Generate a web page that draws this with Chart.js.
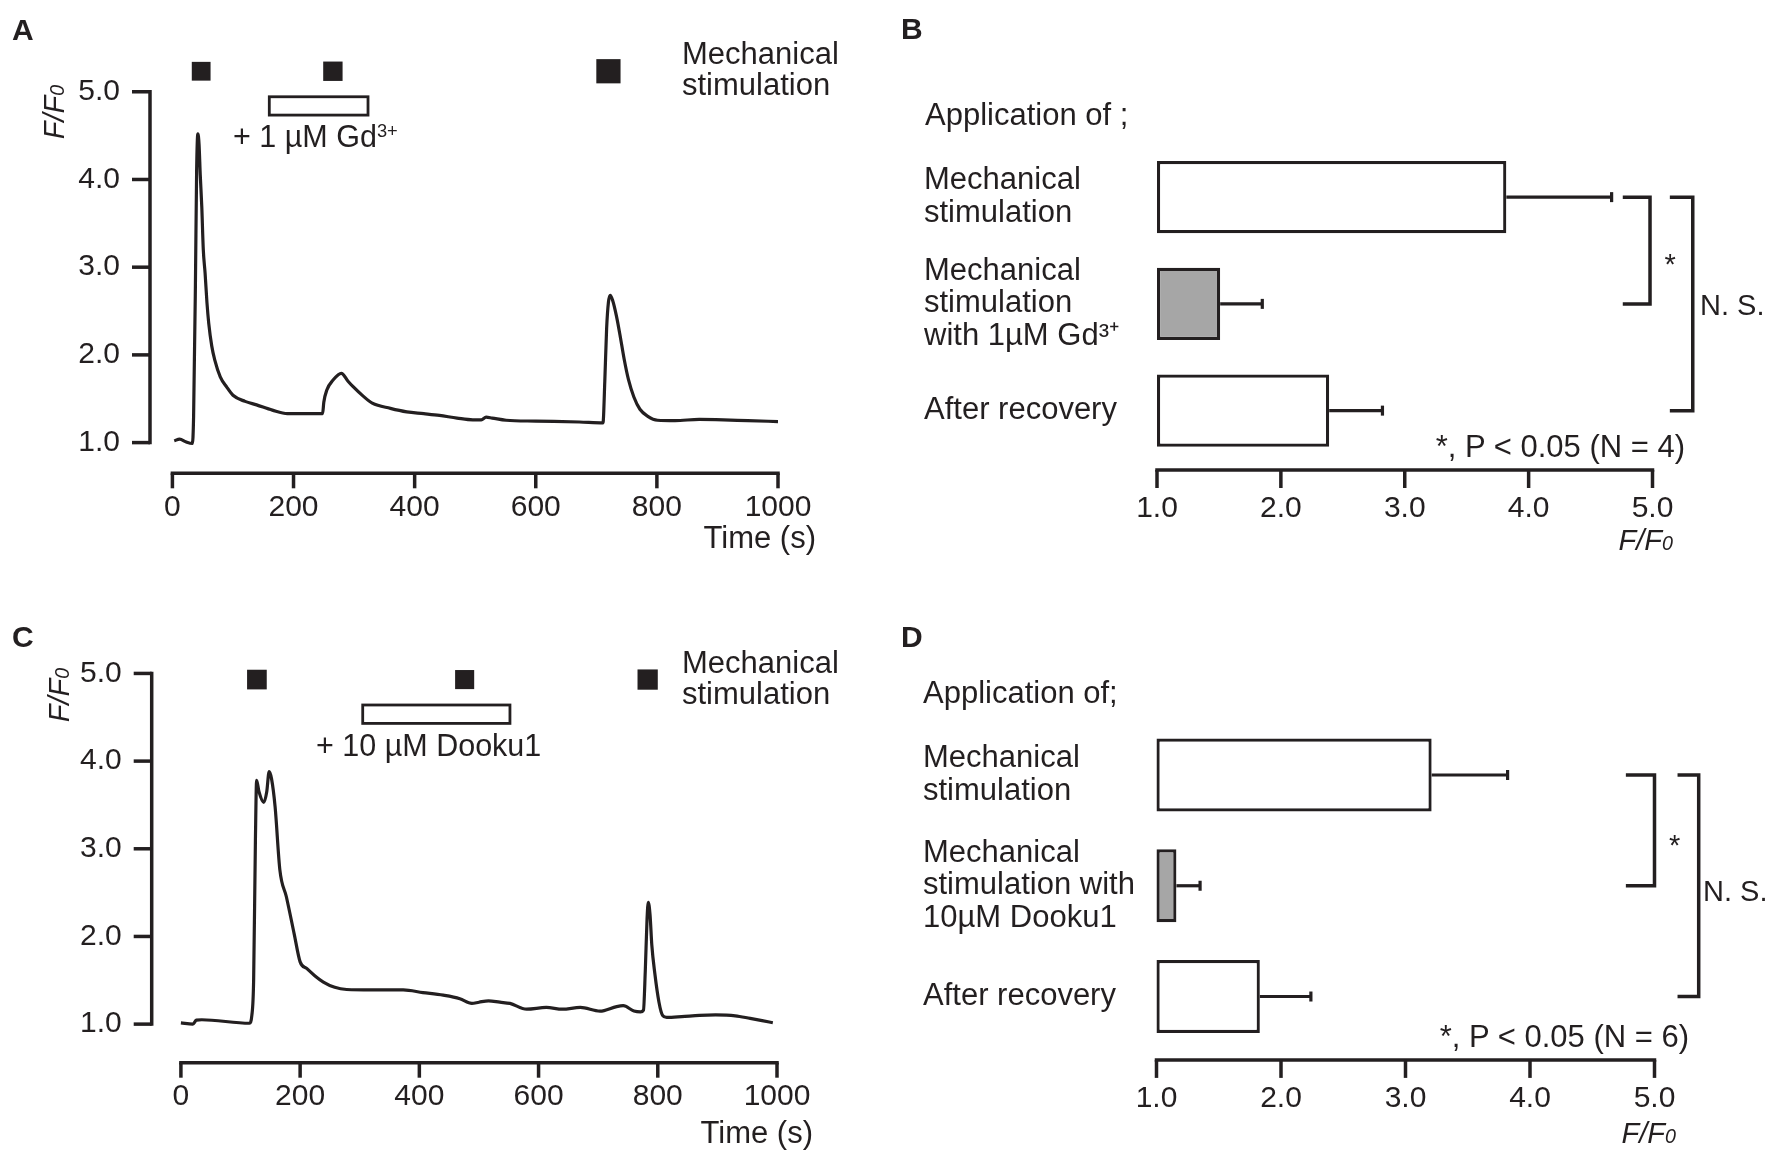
<!DOCTYPE html>
<html>
<head>
<meta charset="utf-8">
<script src="https://cdn.jsdelivr.net/npm/chart.js@4.4.1/dist/chart.umd.min.js"></script>
<style>
  html, body { margin: 0; padding: 0; background: #fff; }
  body { width: 1775px; height: 1154px; position: relative; overflow: hidden;
         font-family: 'Liberation Sans', Arial, Helvetica, sans-serif; color: #231f20; }
  canvas { position: absolute; }
  .t { position: absolute; white-space: nowrap; font-size: 31px; line-height: 31px; }
  .s30 { font-size: 30.5px; }
  .s29 { font-size: 29px; }
  .tag { font-size: 30px; font-weight: bold; }
  .right { transform: translateX(-100%); }
  .ylab { font-size: 29px; font-style: italic; transform: translate(-50%, -50%) rotate(-90deg); }
  .sub { font-size: 0.68em; }
  sup { font-size: 0.6em; vertical-align: 0.55em; line-height: 0; }
</style>
</head>
<body>

<canvas id="chartA" width="887" height="577" style="left:0;top:0"></canvas>
<canvas id="chartB" width="888" height="577" style="left:887px;top:0"></canvas>
<canvas id="chartC" width="887" height="577" style="left:0;top:577px"></canvas>
<canvas id="chartD" width="888" height="577" style="left:887px;top:577px"></canvas>

<!-- panel A -->
<div class="t tag" style="left:12px;top:14.3px">A</div>
<div class="t" style="left:682px;top:37.8px">Mechanical<br>stimulation</div>
<div class="t s30" style="left:233px;top:120.9px">+ 1 µM Gd<sup>3+</sup></div>
<div class="t right" style="left:816px;top:521.8px">Time (s)</div>
<div class="t ylab" style="left:56px;top:111.5px">F/F<span class="sub">0</span></div>

<!-- panel B -->
<div class="t tag" style="left:901px;top:13.3px">B</div>
<div class="t" style="left:925px;top:98.8px">Application of ;</div>
<div class="t s29" style="left:1664.4px;top:249px">*</div>
<div class="t s29" style="left:1700px;top:289.5px">N. S.</div>
<div class="t right" style="left:1685px;top:430.5px">*, P &lt; 0.05 (N = 4)</div>
<div class="t s29 right" style="left:1673px;top:524.5px;font-style:italic">F/F<span class="sub">0</span></div>

<!-- panel C -->
<div class="t tag" style="left:12px;top:621.3px">C</div>
<div class="t" style="left:682px;top:647.1px">Mechanical<br>stimulation</div>
<div class="t s30" style="left:316px;top:729.6px">+ 10 µM Dooku1</div>
<div class="t right" style="left:813px;top:1116.8px">Time (s)</div>
<div class="t ylab" style="left:60.5px;top:695px">F/F<span class="sub">0</span></div>

<!-- panel D -->
<div class="t tag" style="left:901px;top:621.3px">D</div>
<div class="t" style="left:923px;top:676.8px">Application of;</div>
<div class="t s29" style="left:1669px;top:829.5px">*</div>
<div class="t s29" style="left:1703px;top:876.3px">N. S.</div>
<div class="t right" style="left:1689px;top:1021.2px">*, P &lt; 0.05 (N = 6)</div>
<div class="t s29 right" style="left:1676px;top:1117.5px;font-style:italic">F/F<span class="sub">0</span></div>

<script>
const ink = '#231f20';
const grey = '#a6a6a6';

// axis ticks
const timeTicks = [0, 200, 400, 600, 800, 1000];
const ratioTicks = [1, 2, 3, 4, 5];

// A: trace with Gd3+
const timeA = [3, 12, 22, 33, 35, 38, 40, 42, 44, 46, 48.5, 51, 54, 57, 60, 65, 70, 79, 90, 100,
  120, 139, 165, 190, 248, 250, 255, 265, 279, 290, 298, 315, 330, 360, 387, 415, 441, 470, 496, 510,
  518, 528, 551, 600, 672, 711, 714, 717, 720, 723, 727, 733, 739, 746, 753, 762, 772, 785, 801, 830,
  870, 910, 950, 1000];
const ratioA = [1.02, 1.04, 1.01, 0.99, 1.3, 2.8, 4.1, 4.52, 4.4, 4.05, 3.69, 3.2, 2.93, 2.6, 2.36, 2.1, 1.94, 1.75, 1.63, 1.54,
  1.47, 1.43, 1.37, 1.33, 1.33, 1.46, 1.6, 1.71, 1.79, 1.7, 1.64, 1.53, 1.45, 1.39, 1.35, 1.33, 1.31, 1.28, 1.26, 1.26,
  1.29, 1.28, 1.255, 1.245, 1.235, 1.225, 1.7, 2.3, 2.6, 2.68, 2.62, 2.45, 2.23, 1.95, 1.72, 1.52, 1.38, 1.3, 1.255, 1.25,
  1.265, 1.26, 1.25, 1.24];
const stimA = [[32, 63], [249, 281], [700, 740]];
const drugA = [160, 323];

// C: trace with Dooku1
const timeC = [0, 20, 26, 35, 115, 119, 122, 125, 127, 131, 139, 144, 148, 152, 158, 166, 177, 190, 200, 211,
  225, 239, 258, 278, 320, 373, 406, 440, 468, 488, 500, 516, 535, 552, 580, 613, 640, 670, 703, 731,
  742, 760, 771, 776, 779, 782, 784, 787, 790, 795, 802, 808, 815, 840, 870, 897, 930, 955, 975, 993];
const ratioC = [1.015, 1.0, 1.045, 1.05, 1.01, 1.1, 1.5, 3.1, 3.78, 3.65, 3.53, 3.65, 3.88, 3.8, 3.48, 2.76, 2.45, 2.03, 1.71, 1.635,
  1.55, 1.48, 1.42, 1.395, 1.39, 1.39, 1.36, 1.33, 1.29, 1.236, 1.25, 1.266, 1.25, 1.236, 1.171, 1.19, 1.17, 1.19, 1.148, 1.2,
  1.21, 1.15, 1.14, 1.16, 1.6, 2.2, 2.39, 2.25, 1.9, 1.58, 1.25, 1.1, 1.076, 1.085, 1.1, 1.105, 1.095, 1.065, 1.04, 1.016];
const stimC = [[111, 144], [460, 492], [766, 800]];
const drugC = [305, 552];

// B: summary with Gd3+
const groupsB = [['Mechanical', 'stimulation'], ['Mechanical', 'stimulation', 'with 1µM Gd³⁺'], 'After recovery'];
const meanB = [3.82, 1.51, 2.39];
const semB = [0.85, 0.34, 0.43];

// D: summary with Dooku1
const groupsD = [['Mechanical', 'stimulation'], ['Mechanical', 'stimulation with', '10µM Dooku1'], 'After recovery'];
const meanD = [3.21, 1.16, 1.83];
const semD = [0.61, 0.19, 0.41];

Chart.defaults.font.family = "'Liberation Sans', Arial, Helvetica, sans-serif";
Chart.defaults.color = ink;
Chart.defaults.animation = false;
Chart.defaults.plugins.legend.display = false;
Chart.defaults.plugins.tooltip.enabled = false;

function seg(ctx, x1, y1, x2, y2) {
    ctx.beginPath();
    ctx.moveTo(x1, y1);
    ctx.lineTo(x2, y2);
    ctx.stroke();
}

// offset axes, stimulation squares and drug bar for the traces
function traceMarks(spec) {
    return {
        id: 'traceMarks',
        afterDatasetsDraw(chart) {
            const { ctx, chartArea: a, scales: { x, y } } = chart;
            ctx.save();
            ctx.strokeStyle = ink;
            ctx.fillStyle = ink;
            ctx.lineWidth = 3.5;
            // x axis
            const x0 = x.getPixelForValue(timeTicks[0]);
            const x1 = x.getPixelForValue(timeTicks[timeTicks.length - 1]);
            seg(ctx, x0 - 1.75, a.bottom, x1 + 1.75, a.bottom);
            timeTicks.forEach(v => {
                const px = x.getPixelForValue(v);
                seg(ctx, px, a.bottom, px, a.bottom + 15);
            });
            // y axis
            const y0 = y.getPixelForValue(ratioTicks[0]);
            const y1 = y.getPixelForValue(ratioTicks[ratioTicks.length - 1]);
            seg(ctx, a.left, y0 + 1.75, a.left, y1 - 1.75);
            ratioTicks.forEach(v => {
                const py = y.getPixelForValue(v);
                seg(ctx, a.left - 18, py, a.left, py);
            });
            // mechanical stimulation squares
            const cy = y.getPixelForValue(spec.stimLevel);
            spec.stim.forEach(([t0, t1]) => {
                const p0 = x.getPixelForValue(t0);
                const w = x.getPixelForValue(t1) - p0;
                ctx.fillRect(p0, cy - w / 2, w, w);
            });
            // drug application bar
            const d0 = x.getPixelForValue(spec.drug[0]);
            const d1 = x.getPixelForValue(spec.drug[1]);
            const top = y.getPixelForValue(spec.drugLevel[1]);
            const bottom = y.getPixelForValue(spec.drugLevel[0]);
            ctx.fillStyle = '#fff';
            ctx.lineWidth = 2.8;
            ctx.fillRect(d0, top, d1 - d0, bottom - top);
            ctx.strokeRect(d0, top, d1 - d0, bottom - top);
            ctx.restore();
        }
    };
}

function traceChart(id, times, ratios, spec) {
    new Chart(document.getElementById(id), {
        type: 'line',
        data: {
            datasets: [{
                data: times.map((t, i) => ({ x: t, y: ratios[i] })),
                borderColor: ink,
                borderWidth: 3.2,
                pointRadius: 0,
                cubicInterpolationMode: 'monotone',
                fill: false
            }]
        },
        options: {
            responsive: false,
            layout: { padding: spec.padding },
            scales: {
                x: {
                    type: 'linear',
                    min: spec.xMin,
                    max: 1000,
                    grid: { display: false },
                    border: { display: false },
                    afterBuildTicks: s => { s.ticks = timeTicks.map(v => ({ value: v })); },
                    afterFit: s => { s.height = 80; },
                    ticks: { font: { size: 30 }, padding: spec.xPad, autoSkip: false, maxRotation: 0, callback: v => v }
                },
                y: {
                    type: 'linear',
                    min: spec.yMin,
                    max: spec.yMax,
                    grid: { display: false },
                    border: { display: false },
                    afterBuildTicks: s => { s.ticks = ratioTicks.map(v => ({ value: v })); },
                    afterFit: s => { s.width = 100; },
                    ticks: { font: { size: 30 }, padding: 22, autoSkip: false, callback: v => v.toFixed(1) }
                }
            }
        },
        plugins: [traceMarks(spec)]
    });
}

// x axis, error bars and significance brackets for the bar panels
function barMarks(means, sems, spec) {
    return {
        id: 'barMarks',
        afterDatasetsDraw(chart) {
            const { ctx, chartArea: a, scales: { x } } = chart;
            const bars = chart.getDatasetMeta(0).data;
            ctx.save();
            ctx.strokeStyle = ink;
            ctx.lineWidth = 3.2;
            // error bars
            bars.forEach((bar, i) => {
                const end = x.getPixelForValue(means[i] + sems[i]);
                seg(ctx, bar.x, bar.y, end, bar.y);
                seg(ctx, end, bar.y - 5, end, bar.y + 5);
            });
            // x axis, sitting a little below the last bar
            ctx.lineWidth = 3.5;
            const ay = a.bottom + spec.gap;
            seg(ctx, x.getPixelForValue(1) - 1.75, ay, x.getPixelForValue(5) + 1.75, ay);
            ratioTicks.forEach(v => {
                const px = x.getPixelForValue(v);
                seg(ctx, px, ay, px, ay + 18);
            });
            // brackets
            spec.brackets.forEach(b => {
                const ya = bars[b.from].y, yb = bars[b.to].y;
                const xa = x.getPixelForValue(b.x[0]), xb = x.getPixelForValue(b.x[1]);
                ctx.beginPath();
                ctx.moveTo(xa, ya);
                ctx.lineTo(xb, ya);
                ctx.lineTo(xb, yb);
                ctx.lineTo(xa, yb);
                ctx.stroke();
            });
            ctx.restore();
        }
    };
}

function barChart(id, groups, means, sems, spec) {
    new Chart(document.getElementById(id), {
        type: 'bar',
        data: {
            labels: groups,
            datasets: [{
                data: means,
                base: 1,
                backgroundColor: ['#ffffff', grey, '#ffffff'],
                borderColor: ink,
                borderWidth: 3.2,
                borderSkipped: false,
                barPercentage: spec.barPct,
                categoryPercentage: 1,
                clip: false
            }]
        },
        options: {
            indexAxis: 'y',
            responsive: false,
            layout: { padding: spec.padding },
            scales: {
                x: {
                    type: 'linear',
                    min: 1,
                    max: 5,
                    grid: { display: false },
                    border: { display: false },
                    afterBuildTicks: s => { s.ticks = ratioTicks.map(v => ({ value: v })); },
                    afterFit: s => { s.height = 60; },
                    ticks: { font: { size: 30 }, padding: spec.xPad, autoSkip: false, maxRotation: 0, callback: v => v.toFixed(1) }
                },
                y: {
                    grid: { display: false },
                    border: { display: false },
                    afterFit: s => { s.width = spec.yWidth; },
                    ticks: { font: { size: 31, lineHeight: 1.045 }, crossAlign: 'far', padding: 0, autoSkip: false }
                }
            }
        },
        plugins: [barMarks(means, sems, spec)]
    });
}

traceChart('chartA', timeA, ratioA, {
    padding: { left: 50, right: 109, top: 52.3, bottom: 23.7 },
    xMin: -37, yMin: 0.65, yMax: 5.45, xPad: 8.7,
    stim: stimA, stimLevel: 5.234, drug: drugA, drugLevel: [4.734, 4.943]
});

traceChart('chartC', timeC, ratioC, {
    padding: { left: 51.7, right: 110, top: 78.9, bottom: 11.3 },
    xMin: -49, yMin: 0.56, yMax: 5.2, xPad: 8.3,
    stim: stimC, stimLevel: 4.93, drug: drugC, drugLevel: [4.43, 4.64]
});

barChart('chartB', groupsB, meanB, semB, {
    padding: { left: 37, right: 122.5, top: 143.75, bottom: 53 },
    yWidth: 233, xPad: 19, gap: 6, barPct: 0.675,
    brackets: [{ from: 0, to: 1, x: [4.76, 4.98] }, { from: 0, to: 2, x: [5.14, 5.325] }]
});

barChart('chartD', groupsD, meanD, semD, {
    padding: { left: 36, right: 120.5, top: 142.6, bottom: 42.1 },
    yWidth: 233.5, xPad: 21.1, gap: 8, barPct: 0.66,
    brackets: [{ from: 0, to: 1, x: [4.77, 5.0] }, { from: 0, to: 2, x: [5.185, 5.355] }]
});
</script>
</body>
</html>
